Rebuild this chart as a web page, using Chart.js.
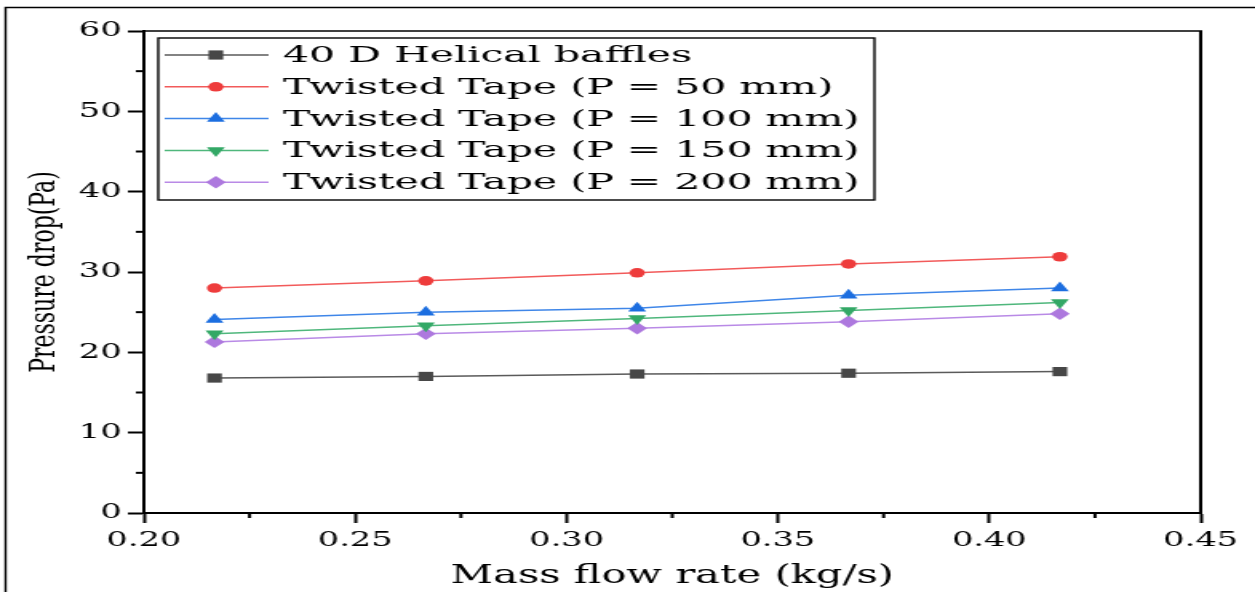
<!DOCTYPE html>
<html><head><meta charset="utf-8">
<script src="https://cdn.jsdelivr.net/npm/chart.js@4.4.1/dist/chart.umd.min.js"></script>
<style>
html,body{margin:0;padding:0;background:#fff;overflow:hidden;}
#wrap{position:absolute;left:0;top:0;width:785px;height:592px;transform:scaleX(1.5987);transform-origin:0 0;}
canvas{display:block;}
</style></head><body>
<div id="wrap"><canvas id="c" width="785" height="592"></canvas></div>
<script>
// ---- data ----
const massFlow = [0.2167, 0.2667, 0.3167, 0.3667, 0.4167];
const helical40D = [16.8, 17.0, 17.3, 17.4, 17.6];
const tape50 = [28.0, 28.9, 29.9, 31.0, 31.9];
const tape100 = [24.1, 25.0, 25.5, 27.1, 28.0];
const tape150 = [22.3, 23.3, 24.2, 25.2, 26.2];
const tape200 = [21.3, 22.3, 23.0, 23.8, 24.8];
const seriesNames = ['40 D Helical baffles', 'Twisted Tape (P = 50 mm)', 'Twisted Tape (P = 100 mm)', 'Twisted Tape (P = 150 mm)', 'Twisted Tape (P = 200 mm)'];
const xTickValues = [0.20, 0.25, 0.30, 0.35, 0.40, 0.45];
const xMinorTicks = [0.225, 0.275, 0.325, 0.375, 0.425];
const yTickValues = [0, 10, 20, 30, 40, 50, 60];
const yMinorTicks = [5, 15, 25, 35, 45, 55];
const xTitle = 'Mass flow rate (kg/s)';
const yTitle = 'Pressure drop(Pa)';

const seriesValues = [helical40D, tape50, tape100, tape150, tape200];
const styles = [
  {line:'#5a5a5a', fill:'#474747', shape:'rect', rot:0, r:6.5},
  {line:'#f25a5a', fill:'#ee3c3c', shape:'circle', rot:0, r:4.8},
  {line:'#3f86e8', fill:'#1c6ee0', shape:'triangle', rot:0, r:6.5},
  {line:'#4fb77c', fill:'#33a866', shape:'triangle', rot:180, r:6.5},
  {line:'#b98ae6', fill:'#ad78de', shape:'rectRot', rot:0, r:6.2}
];

const datasets = seriesValues.map((vals, i) => ({
  label: seriesNames[i],
  data: vals.map((v, k) => ({x: massFlow[k], y: v})),
  borderColor: styles[i].line,
  backgroundColor: styles[i].fill,
  pointBackgroundColor: styles[i].fill,
  pointBorderColor: styles[i].fill,
  pointBorderWidth: 0,
  pointStyle: styles[i].shape,
  pointRotation: styles[i].rot,
  pointRadius: styles[i].r,
  borderWidth: 1.5,
  tension: 0,
  fill: false
}));

const decor = {
  id: 'decor',
  afterDraw(chart) {
    const ctx = chart.ctx, a = chart.chartArea;
    const xs = chart.scales.x, ys = chart.scales.y;
    ctx.save();
    ctx.strokeStyle = '#000';
    // top and right frame of plot
    ctx.lineWidth = 1.5;
    ctx.beginPath(); ctx.moveTo(a.left, a.top); ctx.lineTo(a.right + 1, a.top); ctx.stroke();
    ctx.lineWidth = 2;
    ctx.beginPath(); ctx.moveTo(a.right, a.top); ctx.lineTo(a.right, a.bottom); ctx.stroke();
    // minor ticks
    ctx.lineWidth = 2;
    xMinorTicks.forEach(v => {
      const px = xs.getPixelForValue(v);
      ctx.beginPath(); ctx.moveTo(px, a.bottom); ctx.lineTo(px, a.bottom + 5); ctx.stroke();
    });
    yMinorTicks.forEach(v => {
      const py = ys.getPixelForValue(v);
      ctx.beginPath(); ctx.moveTo(a.left - 5, py); ctx.lineTo(a.left, py); ctx.stroke();
    });
    // outer image frame
    ctx.lineWidth = 1.4;
    ctx.beginPath(); ctx.moveTo(3.5, 592); ctx.lineTo(3.5, 7.5); ctx.lineTo(785, 7.5); ctx.stroke();
    // legend
    const bx = 99, by = 38, bw = 448, bh = 162;
    ctx.fillStyle = '#fff';
    ctx.fillRect(bx, by, bw, bh);
    ctx.lineWidth = 1.4;
    ctx.strokeRect(bx, by, bw, bh);
    chart.data.datasets.forEach((ds, i) => {
      const y = 55 + i * 31.8;
      ctx.strokeStyle = ds.borderColor;
      ctx.lineWidth = 1.5;
      ctx.beginPath(); ctx.moveTo(103, y); ctx.lineTo(168, y); ctx.stroke();
      ctx.fillStyle = ds.pointBackgroundColor;
      ctx.strokeStyle = ds.pointBackgroundColor;
      Chart.helpers.drawPoint(ctx, {pointStyle: ds.pointStyle, rotation: ds.pointRotation, radius: ds.pointRadius, borderWidth: 0}, 135, y);
      ctx.save();
      ctx.fillStyle = '#000';
      ctx.font = '23px "DejaVu Serif"';
      ctx.textBaseline = 'middle';
      ctx.textAlign = 'left';
      ctx.translate(177, y + 1);
      ctx.scale(1.115, 1);
      ctx.fillText(ds.label, 0, 0);
      ctx.restore();
    });
    ctx.restore();
  }
};

new Chart(document.getElementById('c'), {
  type: 'line',
  data: { datasets },
  options: {
    responsive: false,
    animation: false,
    devicePixelRatio: 1,
    layout: { padding: { top: 31, right: 34, left: 0, bottom: 0 } },
    plugins: { legend: { display: false }, tooltip: { enabled: false }, title: { display: false } },
    scales: {
      x: {
        type: 'linear', min: 0.2, max: 0.45,
        afterBuildTicks: s => { s.ticks = xTickValues.map(v => ({value: v})); },
        afterFit: s => { s.height = 79; },
        ticks: { callback: v => Number(v).toFixed(2), color: '#000', padding: 5, maxRotation: 0, autoSkip: false,
                 font: { family: 'DejaVu Serif', size: 21 } },
        grid: { drawOnChartArea: false, drawTicks: true, tickLength: 10, tickColor: '#000', tickWidth: 2 },
        border: { display: true, color: '#000', width: 2 },
        title: { display: true, text: xTitle, color: '#000', padding: { top: 0, bottom: 0 },
                 font: { family: 'DejaVu Serif', size: 26 } }
      },
      y: {
        type: 'linear', min: 0, max: 60,
        afterBuildTicks: s => { s.ticks = yTickValues.map(v => ({value: v})); },
        afterFit: s => { s.width = 90; },
        ticks: { color: '#000', padding: 4, font: { family: 'DejaVu Serif', size: 21 } },
        grid: { drawOnChartArea: false, drawTicks: true, tickLength: 10, tickColor: '#000', tickWidth: 2 },
        border: { display: true, color: '#000', width: 2 },
        title: { display: true, text: yTitle, color: '#000', padding: { top: 15, bottom: 0 },
                 font: { family: 'DejaVu Serif', size: 22 } }
      }
    }
  },
  plugins: [decor]
});
</script>
</body></html>
